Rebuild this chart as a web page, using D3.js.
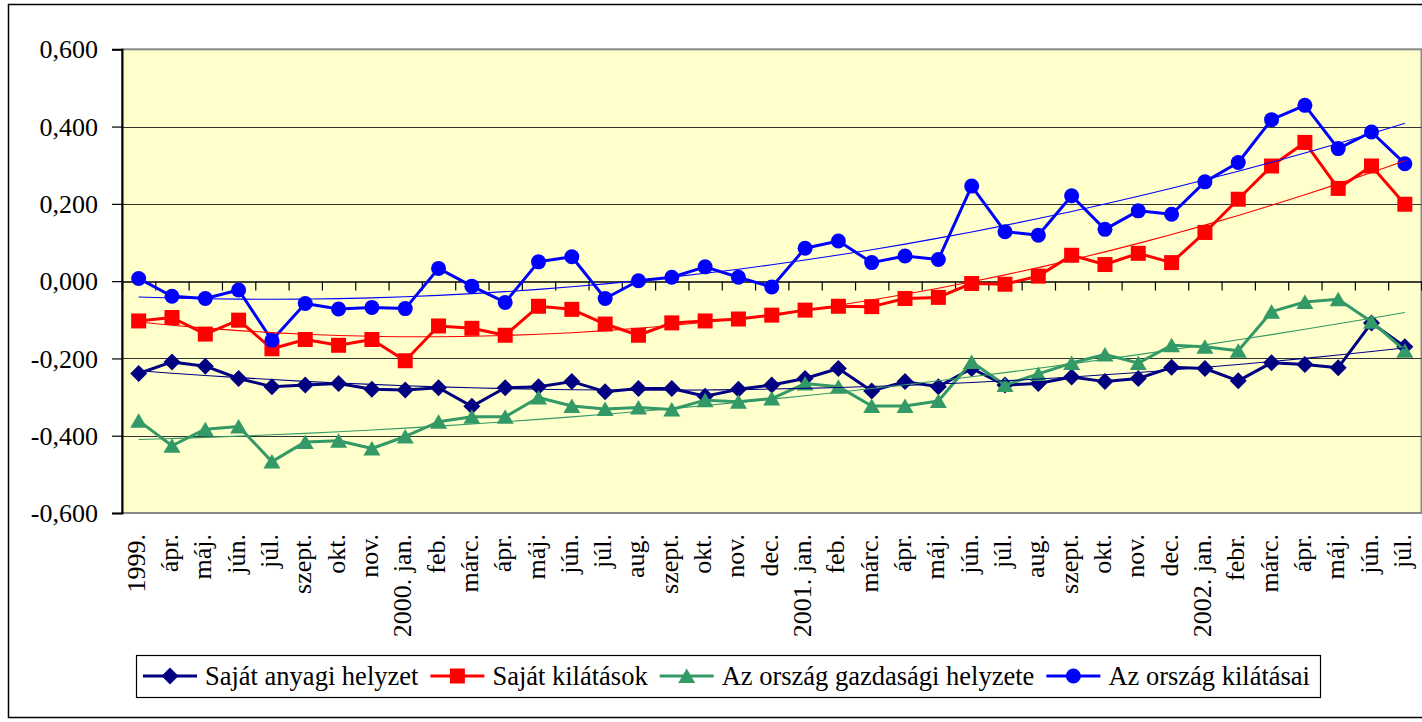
<!DOCTYPE html>
<html>
<head>
<meta charset="utf-8">
<script src="https://cdn.jsdelivr.net/npm/d3@7"></script>
<style>
  body { margin: 0; background: #fff; }
  svg { display: block; }
  text { font-family: "Liberation Serif", "Times New Roman", serif; fill: #000; }
</style>
</head>
<body>
<div id="chart"></div>
<script>
// categories (months, 1999 - 2002)
const months = ["1999.", "ápr.", "máj.", "jún.", "júl.", "szept.", "okt.", "nov.", "2000. jan.", "feb.",
  "márc.", "ápr.", "máj.", "jún.", "júl.", "aug.", "szept.", "okt.", "nov.", "dec.",
  "2001. jan.", "feb.", "márc.", "ápr.", "máj.", "jún.", "júl.", "aug.", "szept.", "okt.",
  "nov.", "dec.", "2002. jan.", "febr.", "márc.", "ápr.", "máj.", "jún.", "júl."];

const sajatAnyagi = [-0.239, -0.209, -0.220, -0.252, -0.273, -0.269, -0.265, -0.280, -0.282, -0.276,
  -0.324, -0.276, -0.273, -0.260, -0.286, -0.278, -0.278, -0.298, -0.280, -0.269,
  -0.252, -0.226, -0.284, -0.260, -0.273, -0.226, -0.269, -0.265, -0.248, -0.260,
  -0.252, -0.223, -0.226, -0.258, -0.211, -0.216, -0.224, -0.108, -0.170];

const sajatKilatasok = [-0.103, -0.094, -0.137, -0.101, -0.175, -0.151, -0.166, -0.151, -0.206, -0.116,
  -0.122, -0.140, -0.065, -0.073, -0.111, -0.140, -0.108, -0.103, -0.098, -0.088,
  -0.075, -0.065, -0.066, -0.045, -0.042, -0.006, -0.008, 0.013, 0.067, 0.043,
  0.072, 0.048, 0.126, 0.212, 0.298, 0.359, 0.240, 0.298, 0.199];

const orszagHelyzet = [-0.361, -0.426, -0.383, -0.376, -0.467, -0.416, -0.413, -0.433, -0.402, -0.364,
  -0.351, -0.351, -0.301, -0.323, -0.331, -0.327, -0.332, -0.308, -0.312, -0.304,
  -0.265, -0.273, -0.323, -0.323, -0.310, -0.209, -0.269, -0.240, -0.212, -0.190,
  -0.212, -0.166, -0.170, -0.180, -0.079, -0.054, -0.047, -0.105, -0.180];

const orszagKilatasai = [0.007, -0.039, -0.045, -0.023, -0.153, -0.058, -0.072, -0.068, -0.071, 0.033,
  -0.013, -0.055, 0.050, 0.063, -0.045, 0.001, 0.010, 0.037, 0.010, -0.015,
  0.085, 0.104, 0.048, 0.065, 0.056, 0.246, 0.128, 0.119, 0.221, 0.134,
  0.182, 0.173, 0.257, 0.307, 0.418, 0.455, 0.343, 0.386, 0.304];

const yTicks = [-0.6, -0.4, -0.2, 0, 0.2, 0.4, 0.6];

const series = [
  { name: "Saját anyagi helyzet", values: sajatAnyagi, color: "#000080", marker: "diamond" },
  { name: "Saját kilátások", values: sajatKilatasok, color: "#ff0000", marker: "square" },
  { name: "Az ország gazdasági helyzete", values: orszagHelyzet, color: "#339966", marker: "triangle" },
  { name: "Az ország kilátásai", values: orszagKilatasai, color: "#0000ff", marker: "circle" }
];

const W = 1422, H = 722;
const plot = { left: 122, right: 1421.5, top: 49.3, bottom: 513 };

const svg = d3.select("#chart").append("svg")
  .attr("width", W).attr("height", H);

// chart area border
svg.append("rect")
  .attr("x", 8.5).attr("y", 4.5).attr("width", 1440).attr("height", 713)
  .attr("fill", "#fff").attr("stroke", "#000").attr("stroke-width", 1.5);

const x = d3.scaleBand().domain(d3.range(months.length)).range([plot.left, plot.right]);
const y = d3.scaleLinear().domain([-0.6, 0.6]).range([plot.bottom, plot.top]);
const cx = i => x(i) + x.bandwidth() / 2;

// plot area
svg.append("rect")
  .attr("x", plot.left).attr("y", plot.top)
  .attr("width", plot.right - plot.left).attr("height", plot.bottom - plot.top)
  .attr("fill", "#ffffcc").attr("stroke", "#888").attr("stroke-width", 2);

// gridlines
svg.append("g").selectAll("line")
  .data(yTicks.filter(t => Math.abs(t) > 0 && Math.abs(t) < 0.6))
  .enter().append("line")
  .attr("x1", plot.left).attr("x2", plot.right)
  .attr("y1", d => Math.round(y(d)) + 0.5).attr("y2", d => Math.round(y(d)) + 0.5)
  .attr("stroke", "#333").attr("stroke-width", 1);

// y axis
const yAxis = svg.append("g")
  .attr("transform", `translate(${plot.left},0)`)
  .call(d3.axisLeft(y).tickValues(yTicks).tickSize(10).tickPadding(14)
    .tickFormat(d => d.toFixed(3).replace(".", ",")));
yAxis.select(".domain").attr("stroke", "#000").attr("stroke-width", 2);
yAxis.selectAll(".tick line").attr("stroke", "#000").attr("stroke-width", 1.2);
yAxis.selectAll(".tick text")
  .style("font-family", '"Liberation Serif", serif')
  .style("font-size", "26px")
  .attr("dy", "0.33em");

// x axis on the zero line, ticks between categories
const xb = d3.scaleLinear().domain([0, months.length]).range([plot.left, plot.right]);
const xAxis = svg.append("g")
  .attr("transform", `translate(0,${Math.round(y(0)) + 0.5})`)
  .call(d3.axisBottom(xb).tickValues(d3.range(1, months.length + 1))
    .tickSize(9).tickFormat(""));
xAxis.select(".domain").attr("stroke", "#000").attr("stroke-width", 1.5);
xAxis.selectAll(".tick line").attr("stroke", "#000").attr("stroke-width", 1.2);

// category labels, rotated
svg.append("g").selectAll("text")
  .data(months)
  .enter().append("text")
  .attr("transform", (d, i) => `translate(${cx(i) + 6},534) rotate(-90)`)
  .attr("text-anchor", "end")
  .style("font-size", "26px")
  .text(d => d);

// marker shapes
function markerPath(type) {
  if (type === "circle") return d3.symbol(d3.symbolCircle, Math.PI * 7.5 * 7.5)();
  if (type === "square") return "M-7.5,-7.5H7.5V7.5H-7.5Z";
  if (type === "diamond") return "M0,-8.5L8.5,0L0,8.5L-8.5,0Z";
  return "M0,-7.5L8.5,7L-8.5,7Z";
}

// quadratic least-squares trend
function polyFit(vals) {
  const S = [0, 0, 0, 0, 0], T = [0, 0, 0];
  vals.forEach((v, i) => {
    const t = i + 1;
    for (let k = 0; k < 5; k++) S[k] += Math.pow(t, k);
    for (let k = 0; k < 3; k++) T[k] += v * Math.pow(t, k);
  });
  const A = [[S[0], S[1], S[2], T[0]], [S[1], S[2], S[3], T[1]], [S[2], S[3], S[4], T[2]]];
  for (let c = 0; c < 3; c++) {
    for (let r = c + 1; r < 3; r++) {
      const f = A[r][c] / A[c][c];
      for (let k = c; k < 4; k++) A[r][k] -= f * A[c][k];
    }
  }
  const b = [0, 0, 0];
  for (let r = 2; r >= 0; r--) {
    let s = A[r][3];
    for (let k = r + 1; k < 3; k++) s -= A[r][k] * b[k];
    b[r] = s / A[r][r];
  }
  return vals.map((v, i) => b[0] + b[1] * (i + 1) + b[2] * (i + 1) * (i + 1));
}

const line = d3.line().x((d, i) => cx(i)).y(d => y(d));

series.forEach(s => {
  const g = svg.append("g");
  g.append("path")
    .datum(s.values)
    .attr("fill", "none")
    .attr("stroke", s.color)
    .attr("stroke-width", 3)
    .attr("stroke-linejoin", "round")
    .attr("d", line);
  g.selectAll("path.mk")
    .data(s.values)
    .enter().append("path")
    .attr("class", "mk")
    .attr("transform", (d, i) => `translate(${cx(i)},${y(d)})`)
    .attr("d", markerPath(s.marker))
    .attr("fill", s.color);
});

// trendlines
const trend = d3.line().x((d, i) => cx(i)).y(d => y(d)).curve(d3.curveMonotoneX);
series.forEach(s => {
  svg.append("path")
    .datum(polyFit(s.values))
    .attr("fill", "none")
    .attr("stroke", s.color)
    .attr("stroke-width", 1.1)
    .attr("d", trend);
});

// legend
const legend = svg.append("g");
legend.append("rect")
  .attr("x", 136.5).attr("y", 655.5).attr("width", 1184).attr("height", 42)
  .attr("fill", "#fff").attr("stroke", "#000").attr("stroke-width", 1.2);
let lx = 143;
series.forEach(s => {
  const item = legend.append("g").attr("transform", `translate(${lx},676)`);
  item.append("line").attr("x1", 0).attr("x2", 54)
    .attr("stroke", s.color).attr("stroke-width", 3);
  item.append("path").attr("transform", "translate(27,0)")
    .attr("d", markerPath(s.marker)).attr("fill", s.color);
  const t = item.append("text").attr("x", 62).attr("y", 9)
    .style("font-size", "26.5px").text(s.name);
  lx += 62 + t.node().getComputedTextLength() + 12;
});
</script>
</body>
</html>
